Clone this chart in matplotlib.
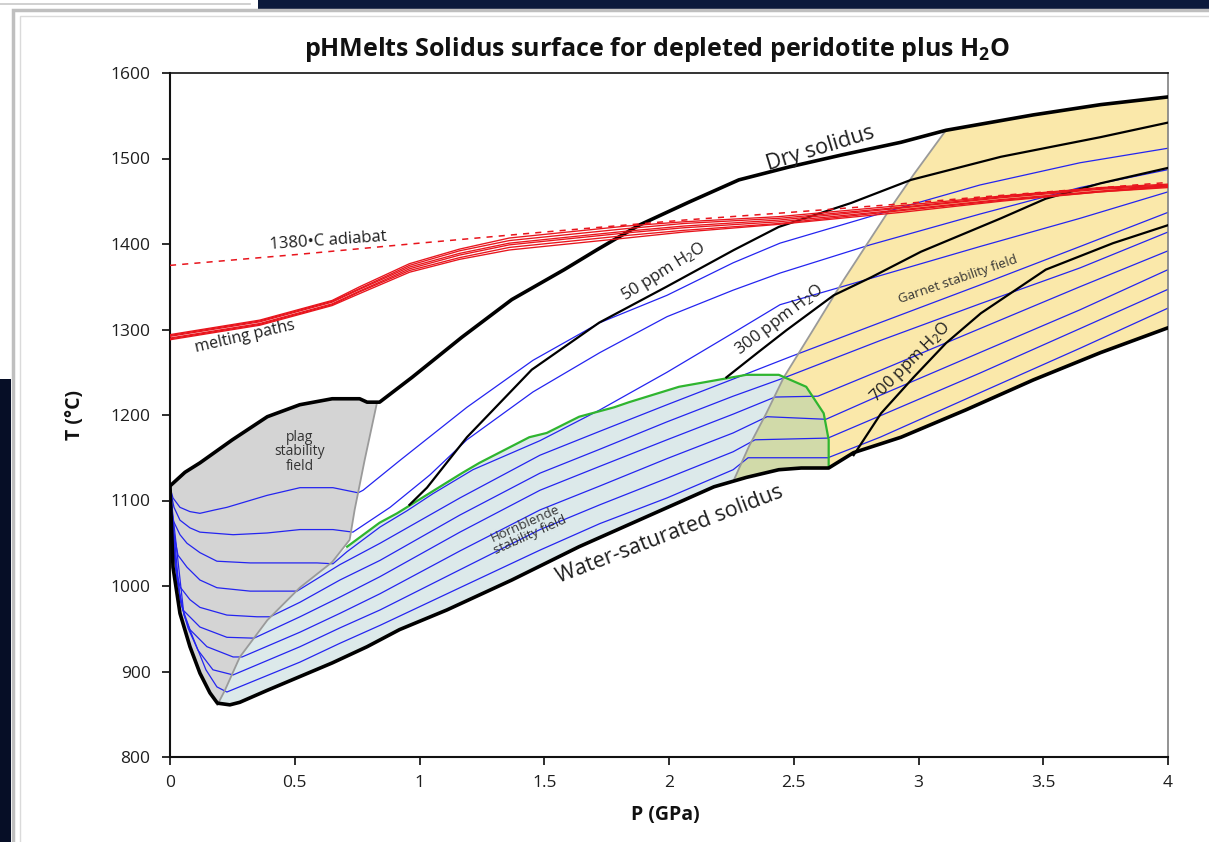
import numpy as np
import matplotlib
matplotlib.use("Agg")
import matplotlib.pyplot as plt
from matplotlib.patches import Polygon, Rectangle
from matplotlib.lines import Line2D

plt.rcParams.update({"font.family": ["Open Sans", "DejaVu Sans"], "mathtext.fontset": "custom",
                     "mathtext.rm": "Open Sans", "mathtext.bf": "Open Sans:bold",
                     "mathtext.it": "Open Sans:italic"})

# ---- phase boundaries (P in GPa, T in deg C) ----
dry_P = np.array([0, 0.06, 0.12, 0.25, 0.39, 0.52, 0.65, 0.76, 0.79, 0.84, 0.97, 1.17, 1.37, 1.58,
                  1.71, 1.88, 2.08, 2.28, 2.48, 2.69, 2.93, 3.11, 3.46, 3.73, 4.0])
dry_T = np.array([1117, 1133, 1144, 1171, 1198, 1212, 1219, 1219, 1215, 1215, 1244, 1291, 1335, 1370,
                  1393, 1422, 1449, 1475, 1490, 1504, 1519, 1533, 1551, 1563, 1572])
wet_P = np.array([0, 0.004, 0.012, 0.04, 0.08, 0.12, 0.16, 0.19, 0.24, 0.28, 0.39, 0.52, 0.65, 0.79,
                  0.92, 1.11, 1.37, 1.64, 1.91, 2.18, 2.31, 2.44, 2.53, 2.64, 2.74, 2.93, 3.19, 3.46,
                  3.73, 4.0])
wet_T = np.array([1117, 1085, 1022, 968, 929, 898, 875, 863, 861, 864, 878, 894, 910, 929,
                  949, 972, 1007, 1046, 1081, 1116, 1127, 1136, 1138, 1138, 1156, 1174, 1206, 1241,
                  1273, 1302])
plag_P = np.array([0.83, 0.78, 0.74, 0.72, 0.65, 0.52, 0.39, 0.28, 0.22, 0.19])
plag_T = np.array([1215, 1147, 1089, 1054, 1028, 998, 960, 917, 878, 861])
hbl_P = np.array([0.71, 0.84, 0.91, 1.17, 1.24, 1.44, 1.51, 1.64, 1.78, 1.84, 2.04, 2.31, 2.44,
                  2.55, 2.62, 2.64, 2.64])
hbl_T = np.array([1046, 1074, 1085, 1132, 1144, 1174, 1179, 1198, 1209, 1215, 1233, 1247, 1247,
                  1233, 1202, 1171, 1139])
gt_P = np.array([3.11, 2.98, 2.89, 2.70, 2.57, 2.46, 2.39, 2.32, 2.26])
gt_T = np.array([1533, 1481, 1443, 1358, 1296, 1244, 1202, 1163, 1124])

# ---- bulk water solidi ----
ppm50_P = [0.96, 1.03, 1.19, 1.45, 1.72, 1.99, 2.26, 2.44, 2.73, 2.97, 3.33, 3.73, 4.0]
ppm50_T = [1095, 1115, 1174, 1253, 1308, 1350, 1393, 1420, 1448, 1475, 1502, 1525, 1542]
ppm300_P = [2.23, 2.36, 2.47, 2.66, 2.81, 3.01, 3.33, 3.51, 3.73, 4.0]
ppm300_T = [1244, 1274, 1299, 1340, 1361, 1391, 1430, 1453, 1471, 1489]
ppm700_P = [2.74, 2.85, 2.98, 3.11, 3.25, 3.51, 3.78, 4.0]
ppm700_T = [1153, 1202, 1244, 1284, 1319, 1370, 1401, 1422]

# ---- adiabat and melting paths ----
adiabat_P = [0, 0.52, 1.0, 1.5, 2.06, 2.44, 2.89, 3.25, 3.65, 4.0]
adiabat_T = [1375, 1388, 1401, 1414, 1428, 1436, 1446, 1455, 1464, 1472]
path_P = [0, 0.36, 0.65, 0.76, 0.96, 1.16, 1.36, 1.56, 1.83, 2.06, 2.44, 2.93, 3.33, 3.73, 4.0]
path1_T = [1294, 1311, 1334, 1350, 1377, 1394, 1407, 1413, 1421, 1426, 1432, 1445, 1456, 1466, 1470]
path2_T = [1293, 1310, 1333, 1348, 1375, 1392, 1404, 1410, 1418, 1424, 1430, 1443, 1455, 1465, 1469]
path3_T = [1292, 1309, 1332, 1347, 1373, 1389, 1401, 1407, 1415, 1421, 1428, 1442, 1454, 1464, 1468]
path4_T = [1290, 1307, 1330, 1345, 1371, 1387, 1399, 1405, 1413, 1419, 1426, 1440, 1452, 1462, 1468]
path5_T = [1289, 1306, 1329, 1344, 1369, 1384, 1396, 1402, 1410, 1416, 1424, 1439, 1451, 1461, 1467]
path6_T = [1288, 1305, 1328, 1342, 1367, 1382, 1393, 1399, 1407, 1414, 1423, 1437, 1450, 1461, 1466]

# ---- solidus contours (blue) ----
a_P = [0, 0.012, 0.04, 0.08, 0.12, 0.18, 0.228, 0.389, 0.521, 0.653, 0.754, 0.774, 0.922, 1.19,
       1.455, 1.723, 1.992, 2.257, 2.445, 2.898, 3.246, 3.647, 4.0]
a_T = [1115, 1103, 1092, 1087, 1085, 1089, 1092, 1106, 1115, 1115, 1109, 1112, 1147, 1209,
       1264, 1308, 1340, 1378, 1401, 1440, 1469, 1495, 1512]
b_P = [0, 0.016, 0.04, 0.08, 0.12, 0.253, 0.389, 0.521, 0.653, 0.733, 0.882, 1.042, 1.19, 1.455,
       1.723, 1.992, 2.257, 2.445, 2.806, 3.246, 3.647, 4.0]
b_T = [1114, 1092, 1077, 1068, 1063, 1060, 1062, 1066, 1066, 1063, 1092, 1130, 1171, 1227,
       1273, 1315, 1346, 1366, 1399, 1435, 1466, 1487]
c_P = [0, 0.012, 0.04, 0.068, 0.12, 0.188, 0.321, 0.453, 0.589, 0.653, 0.709, 0.842, 0.95, 1.054,
       1.214, 1.483, 1.723, 1.992, 2.257, 2.445, 2.846, 3.246, 3.647, 4.0]
c_T = [1114, 1077, 1060, 1050, 1039, 1029, 1027, 1027, 1027, 1026, 1040, 1069, 1088, 1108,
       1136, 1170, 1206, 1250, 1296, 1329, 1363, 1397, 1430, 1461]
d_P = [0, 0.012, 0.032, 0.068, 0.12, 0.188, 0.321, 0.453, 0.509, 0.681, 0.842, 1.162, 1.483,
       1.723, 1.992, 2.257, 2.485, 2.846, 3.246, 3.647, 4.0]
d_T = [1114, 1066, 1036, 1022, 1007, 998, 994, 994, 994, 1025, 1050, 1103, 1153,
       1181, 1212, 1242, 1268, 1308, 1352, 1397, 1437]
e_P = [0, 0.016, 0.024, 0.04, 0.08, 0.12, 0.228, 0.349, 0.401, 0.521, 0.681, 0.842, 1.162, 1.483,
       1.723, 1.992, 2.257, 2.457, 2.846, 3.246, 3.647, 4.0]
e_T = [1114, 1048, 1019, 999, 984, 975, 966, 964, 964, 981, 1007, 1030, 1083, 1132,
       1160, 1192, 1222, 1243, 1287, 1330, 1372, 1414]
f_P = [0, 0.02, 0.036, 0.052, 0.12, 0.228, 0.337, 0.521, 0.681, 0.842, 1.162, 1.483, 1.723,
       1.992, 2.257, 2.425, 2.597, 2.846, 3.246, 3.647, 4.0]
f_T = [1114, 1030, 995, 972, 952, 940, 939, 964, 987, 1011, 1063, 1112, 1140,
       1171, 1201, 1221, 1222, 1252, 1301, 1350, 1392]
g_P = [0, 0.028, 0.052, 0.08, 0.148, 0.253, 0.289, 0.521, 0.681, 0.842, 1.162, 1.483, 1.723,
       1.992, 2.257, 2.393, 2.629, 2.846, 3.246, 3.647, 4.0]
g_T = [1114, 1007, 972, 949, 929, 917, 917, 946, 968, 991, 1041, 1089, 1117,
       1149, 1179, 1198, 1195, 1223, 1273, 1323, 1370]
h_P = [0, 0.04, 0.072, 0.112, 0.172, 0.253, 0.521, 0.681, 0.842, 1.162, 1.483, 1.723, 1.992,
       2.257, 2.345, 2.637, 2.846, 3.246, 3.647, 4.0]
h_T = [1114, 984, 951, 925, 902, 896, 929, 951, 972, 1019, 1066, 1095, 1126,
       1157, 1171, 1173, 1199, 1249, 1301, 1347]
i_P = [0, 0.056, 0.104, 0.144, 0.188, 0.228, 0.521, 0.681, 0.842, 1.162, 1.483, 1.723, 1.992,
       2.257, 2.317, 2.637, 2.846, 3.246, 3.647, 4.0]
i_T = [1114, 966, 931, 902, 882, 876, 911, 933, 954, 998, 1042, 1073, 1103,
       1136, 1150, 1150, 1174, 1226, 1278, 1325]

x_ticks = [0, 0.5, 1, 1.5, 2, 2.5, 3, 3.5, 4]
x_labels = ["0", "0.5", "1", "1.5", "2", "2.5", "3", "3.5", "4"]
y_ticks = [800, 900, 1000, 1100, 1200, 1300, 1400, 1500, 1600]

W, H = 1209, 842
fig = plt.figure(figsize=(W / 100, H / 100), dpi=100)

def px_rect(x0, y0, x1, y1, **kw):
    return Rectangle((x0 / W, 1 - y1 / H), (x1 - x0) / W, (y1 - y0) / H,
                     transform=fig.transFigure, **kw)

# slide surround
fig.add_artist(px_rect(258, 0, W, 9, fc="#0c1a3c", ec="none"))
fig.add_artist(px_rect(0, 379, 11, H, fc="#060e26", ec="none"))
fig.add_artist(px_rect(13, 10, W + 5, H + 5, fc="none", ec="#bfbfbf", lw=2.5))
fig.add_artist(px_rect(20, 16, W + 5, H + 5, fc="none", ec="#dadada", lw=1.0))
fig.add_artist(Line2D([0, 250 / W], [1 - 4 / H, 1 - 4 / H], transform=fig.transFigure,
                      color="#c8c8c8", lw=1.2))

ax = fig.add_axes([170 / W, 1 - 757 / H, 998 / W, 684 / H])
ax.set_xlim(0, 4)
ax.set_ylim(800, 1600)

PLAG, HBL, GT, OLIVE = "#d4d4d4", "#dce9ea", "#fae8aa", "#d1daa9"

# stability fields
plag_poly = np.c_[np.r_[dry_P[dry_P <= 0.84], plag_P, wet_P[wet_P <= 0.19][::-1]],
                  np.r_[dry_T[dry_P <= 0.84], plag_T, wet_T[wet_P <= 0.19][::-1]]]
low = plag_P <= 0.65
mid = (wet_P >= 0.19) & (wet_P <= 2.64)
hbl_poly = np.c_[np.r_[plag_P[low][::-1], hbl_P, wet_P[mid][::-1]],
                 np.r_[plag_T[low][::-1], hbl_T, wet_T[mid][::-1]]]
gt_poly = np.c_[np.r_[gt_P, wet_P[wet_P > 2.26], dry_P[dry_P > 3.11][::-1]],
                np.r_[gt_T, wet_T[wet_P > 2.26], dry_T[dry_P > 3.11][::-1]]]
ax.add_patch(Polygon(plag_poly, closed=True, fc=PLAG, ec="none", zorder=1))
ax.add_patch(Polygon(hbl_poly, closed=True, fc=HBL, ec="none", zorder=1))
gt_patch = Polygon(gt_poly, closed=True, fc=GT, ec="none", zorder=1)
ax.add_patch(gt_patch)
overlap = Polygon(hbl_poly, closed=True, fc=OLIVE, ec="none", zorder=1.1)
ax.add_patch(overlap)
overlap.set_clip_path(gt_patch)

# contours
BLUE = "#2424f0"
for xs, ys in [(a_P, a_T), (b_P, b_T), (c_P, c_T), (d_P, d_T), (e_P, e_T),
               (f_P, f_T), (g_P, g_T), (h_P, h_T), (i_P, i_T)]:
    ax.plot(xs, ys, color=BLUE, lw=0.9, zorder=2, solid_joinstyle="round")

ax.plot(plag_P, plag_T, color="#9a9a9a", lw=1.3, zorder=3)
ax.plot(gt_P, gt_T, color="#9a9a9a", lw=1.3, zorder=3)
ax.plot(hbl_P, hbl_T, color="#2fb52f", lw=1.6, zorder=3, solid_joinstyle="round")

ax.plot(dry_P, dry_T, color="black", lw=2.6, zorder=4, solid_capstyle="round",
        solid_joinstyle="round")
ax.plot(wet_P, wet_T, color="black", lw=2.6, zorder=4, solid_capstyle="round",
        solid_joinstyle="round")
for xs, ys in [(ppm50_P, ppm50_T), (ppm300_P, ppm300_T), (ppm700_P, ppm700_T)]:
    ax.plot(xs, ys, color="black", lw=1.6, zorder=4, solid_joinstyle="round")

RED = "#e8141c"
for ys in [path1_T, path2_T, path3_T, path4_T, path5_T, path6_T]:
    ax.plot(path_P, ys, color=RED, lw=0.95, zorder=5)
ax.plot(adiabat_P, adiabat_T, color=RED, lw=1.1, ls=(0, (4, 4)), zorder=5)

# labels
INK = "#1e1e1e"
def label(x, y, s, rot=0, fs=12, **kw):
    ax.text(x, y, s, rotation=rot, fontsize=fs, color=kw.pop("color", INK), ha="center",
            va="center", rotation_mode="anchor", zorder=6, **kw)

label(2.605, 1512, "Dry solidus", rot=17, fs=15.5)
label(2.004, 1060, "Water-saturated solidus", rot=21, fs=15.5)
label(0.633, 1404, "1380•C adiabat", rot=4, fs=12)
label(0.301, 1291, "melting paths", rot=13, fs=11.5)
label(1.98, 1367, r"50 ppm H$_2$O", rot=32, fs=12)
label(2.441, 1311, r"300 ppm H$_2$O", rot=37, fs=12)
label(2.966, 1261, r"700 ppm H$_2$O", rot=45, fs=12)
label(3.158, 1358, "Garnet stability field", rot=19, fs=9.5, color="#333333")
label(0.521, 1157, "plag\nstability\nfield", fs=10, color="#333333", linespacing=0.95)
label(1.435, 1066, "Hornblende\nstability field", rot=24, fs=9.5, color="#333333",
      linespacing=0.95)

ax.set_xticks(x_ticks)
ax.set_xticklabels(x_labels)
ax.set_yticks(y_ticks)
ax.tick_params(direction="out", length=6, width=1.3, labelsize=12.5, pad=8, colors=INK)
ax.tick_params(axis="x", pad=7)
for side in ["left", "bottom"]:
    ax.spines[side].set_linewidth(1.5)
    ax.spines[side].set_color("#111111")
ax.spines["top"].set_linewidth(1.2)
ax.spines["top"].set_color("#111111")
ax.spines["right"].set_linewidth(1.2)
ax.spines["right"].set_color("#808080")

fig.text(657 / W, 1 - 50 / H, r"pHMelts Solidus surface for depleted peridotite plus H$_\mathbf{2}$O",
         ha="center", va="center", fontsize=18, fontweight="bold", color="#111111")
fig.text(75 / W, 1 - 415 / H, "T (°C)", rotation=90, ha="center", va="center", fontsize=14,
         fontweight="bold", color="#111111")
fig.text(665 / W, 1 - 815 / H, "P (GPa)", ha="center", va="center", fontsize=14,
         fontweight="bold", color="#111111")

fig.savefig("out.png", dpi=100)
